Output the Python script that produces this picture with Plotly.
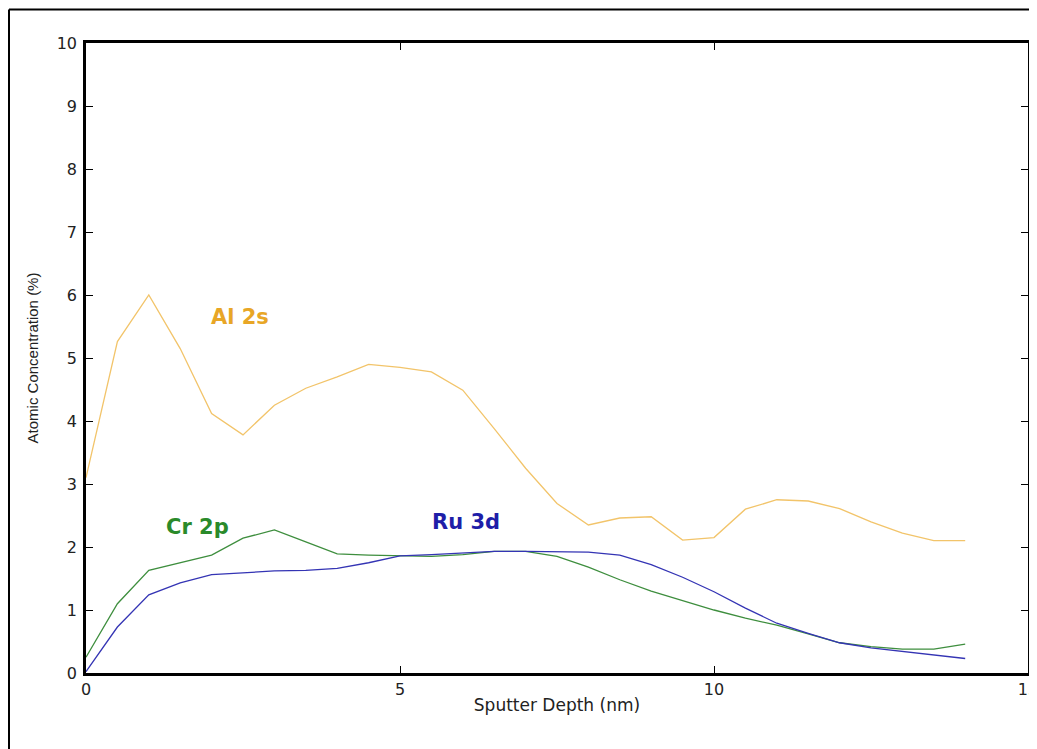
import plotly.graph_objects as go

depth = [0, 0.5, 1, 1.5, 2, 2.5, 3, 3.5, 4, 4.5, 5, 5.5, 6, 6.5, 7, 7.5, 8, 8.5, 9, 9.5,
         10, 10.5, 11, 11.5, 12, 12.5, 13, 13.5, 14]
al_2s = [3.1, 5.26, 6.0, 5.15, 4.12, 3.78, 4.25, 4.52, 4.70, 4.90, 4.85, 4.78, 4.49, 3.88, 3.25,
         2.69, 2.35, 2.46, 2.48, 2.11, 2.15, 2.60, 2.75, 2.73, 2.61, 2.40, 2.22, 2.10, 2.10]
cr_2p = [0.25, 1.10, 1.63, 1.75, 1.87, 2.14, 2.27, 2.08, 1.89, 1.87, 1.86, 1.85, 1.88, 1.93, 1.93,
         1.85, 1.68, 1.48, 1.30, 1.15, 1.00, 0.87, 0.76, 0.62, 0.48, 0.42, 0.38, 0.38, 0.46]
ru_3d = [0.02, 0.73, 1.24, 1.43, 1.56, 1.59, 1.62, 1.63, 1.66, 1.75, 1.86, 1.88, 1.90, 1.93, 1.93,
         1.92, 1.92, 1.87, 1.72, 1.52, 1.29, 1.03, 0.79, 0.63, 0.48, 0.40, 0.34, 0.29, 0.23]

series_names = ["Al 2s", "Cr 2p", "Ru 3d"]
line_colors = ["#F2C46A", "#3E8E3E", "#3434B4"]
label_colors = ["#E8A626", "#2A8A2A", "#1E1EA8"]
label_x = [2.45, 1.78, 6.05]
label_y = [5.65, 2.32, 2.40]

x_ticks = [0, 5, 10, 15]
y_ticks = list(range(0, 11))

fig = go.Figure()
for name, ys, col in zip(series_names, [al_2s, cr_2p, ru_3d], line_colors):
    fig.add_trace(go.Scatter(x=depth, y=ys, mode="lines", name=name,
                             line=dict(color=col, width=1.3), showlegend=False))

for name, lx, ly, col in zip(series_names, label_x, label_y, label_colors):
    fig.add_annotation(x=lx, y=ly, text="<b>%s</b>" % name, showarrow=False,
                       font=dict(family="DejaVu Sans", size=21, color=col))

# page has an 8px body margin, so figure coords = page coords - 8
OFF = 8
W, H = 1029, 741
ml, mt = 86 - OFF, 43 - OFF
mr = W - (1028 - OFF)
mb = H - (673 - OFF)
pw, ph = W - ml - mr, H - mt - mb

def px_to_paper_x(px):
    return (px - OFF - ml) / pw

def px_to_paper_y(py):
    return (H - mb - (py - OFF)) / ph

# outer frame (open at bottom, as in reference)
fx0, fx1, fy0 = px_to_paper_x(9), px_to_paper_x(1045), px_to_paper_y(9.5)
fybot = px_to_paper_y(770)
fig.add_shape(type="line", xref="paper", yref="paper", x0=fx0, x1=fx1, y0=fy0, y1=fy0,
              line=dict(color="black", width=2))
fig.add_shape(type="line", xref="paper", yref="paper", x0=fx0, x1=fx0, y0=fybot, y1=fy0,
              line=dict(color="black", width=2))

axis_font = dict(family="DejaVu Sans", size=16, color="#222")

fig.update_layout(
    width=W, height=H,
    margin=dict(l=ml, r=mr, t=mt, b=mb, pad=0),
    paper_bgcolor="white", plot_bgcolor="white",
    xaxis=dict(range=[0, 15], tickvals=x_ticks, ticks="inside", ticklen=7, tickcolor="black",
               showline=True, linecolor="black", linewidth=2.5, mirror="ticks",
               showgrid=False, zeroline=False, tickfont=axis_font, automargin=False,
               ticklabelstandoff=0, ticklabeloverflow="allow",
               title=dict(text="Sputter Depth (nm)", font=dict(family="DejaVu Sans", size=17, color="#222"),
                          standoff=2)),
    yaxis=dict(range=[0, 10], tickvals=y_ticks, ticks="inside", ticklen=7, tickcolor="black",
               showline=True, linecolor="black", linewidth=2.5, mirror="ticks",
               showgrid=False, zeroline=False, tickfont=axis_font, automargin=False,
               ticklabelstandoff=3, ticklabeloverflow="allow",
               title=dict(text="Atomic Concentration (%)", font=dict(family="Liberation Sans", size=15, color="#222"),
                          standoff=15)),
)

fig.write_html("out.html")
